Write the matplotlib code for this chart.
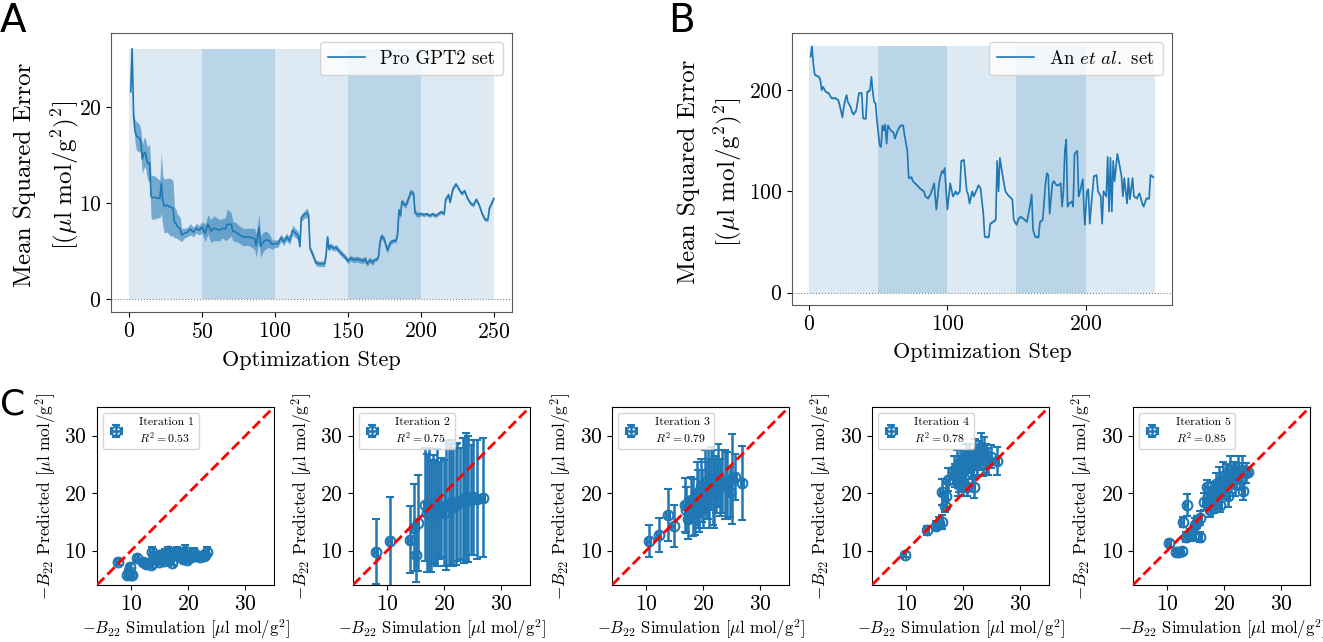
import matplotlib
matplotlib.use('Agg')
import matplotlib.pyplot as plt
import numpy as np

plt.rcParams['font.family'] = 'serif'
plt.rcParams['font.serif'] = ['cmr10']
plt.rcParams['mathtext.fontset'] = 'cm'
plt.rcParams['axes.formatter.use_mathtext'] = True
plt.rcParams['axes.unicode_minus'] = False

# ---- panel A : Pro GPT2 set ----
steps_a = [1, 2, 3, 4, 5, 6, 7, 8, 9, 10, 11, 12, 13, 14, 15, 16, 18, 20, 21, 22, 23, 24, 26, 28, 30,
           31, 32, 33, 35, 36, 38, 40, 42, 44, 46, 48, 50, 52, 54, 56, 58, 60, 62, 64, 66, 67, 70,
           71, 73, 75, 78, 80, 82, 84, 86, 87, 88, 89, 90, 92, 94, 96, 98, 100, 102, 104, 106, 108,
           110, 112, 114, 116, 117, 118, 120, 122, 123, 124, 126, 128, 130, 134, 135, 136, 137, 138,
           140, 142, 144, 146, 148, 150, 152, 154, 156, 158, 160, 162, 163, 165, 167, 168, 170, 171,
           172, 173, 175, 177, 179, 181, 183, 184, 185, 186, 187, 189, 190, 192, 193, 195, 196, 198,
           200, 202, 204, 206, 208, 210, 212, 214, 216, 217, 219, 220, 222, 224, 226, 228, 230, 232,
           234, 236, 238, 240, 242, 244, 246, 247, 248, 250]
mse_a = [21.6, 26.1, 19.0, 17.5, 17.0, 16.9, 16.8, 16.4, 14.6, 15.2, 15.3, 14.5, 14.1, 14.2, 10.7,
         10.6, 10.6, 10.5, 10.5, 12.1, 10.3, 9.7, 9.8, 9.6, 9.5, 8.0, 7.9, 7.6, 7.3, 6.7, 6.9, 7.0,
         7.3, 7.0, 7.4, 7.2, 7.5, 6.9, 7.8, 7.1, 7.4, 7.3, 7.2, 7.4, 7.3, 7.8, 7.8, 7.1, 7.0, 6.8,
         6.5, 6.5, 6.5, 6.4, 6.3, 5.6, 6.5, 7.5, 5.5, 6.0, 6.2, 6.1, 5.7, 5.8, 5.8, 6.4, 6.0, 6.5,
         6.1, 7.2, 6.9, 6.6, 5.5, 8.5, 8.8, 9.0, 8.7, 5.3, 4.6, 3.8, 3.7, 3.7, 4.6, 6.5, 5.2, 5.6,
         5.3, 5.4, 5.0, 4.7, 4.4, 4.0, 4.3, 4.1, 4.2, 4.1, 4.0, 4.2, 3.7, 4.1, 3.8, 4.1, 4.2, 4.5,
         6.0, 6.6, 6.2, 5.1, 5.9, 6.1, 6.1, 6.8, 9.3, 8.7, 10.2, 9.8, 9.9, 10.7, 11.2, 11.0, 9.0, 8.8,
         8.9, 8.8, 8.9, 8.7, 8.9, 8.7, 8.9, 9.1, 8.9, 10.4, 10.9, 10.1, 11.5, 12.0, 11.5, 11.0, 11.3,
         10.5, 10.0, 9.8, 10.4, 9.8, 8.9, 8.3, 8.3, 9.5, 9.8, 10.5]
std_a = [0.3, 0.3, 0.5, 1.2, 1.5, 1.5, 1.4, 1.3, 1.5, 1.6, 1.5, 1.6, 1.8, 2.0, 2.2, 2.3, 2.2, 2.0,
         2.0, 3.2, 2.6, 2.8, 2.8, 3.0, 2.9, 1.6, 1.5, 1.3, 1.2, 0.7, 0.5, 0.5, 0.6, 0.5, 0.5, 0.5,
         0.6, 0.9, 1.0, 1.2, 1.3, 1.2, 1.1, 1.0, 1.2, 1.6, 1.2, 1.0, 1.0, 0.9, 0.9, 0.9, 0.9, 1.0,
         1.1, 1.2, 1.3, 1.4, 1.1, 1.0, 0.9, 0.7, 0.5, 0.4, 0.4, 0.4, 0.4, 0.4, 0.4, 0.5, 0.5, 0.4,
         0.3, 0.4, 0.4, 0.5, 0.4, 0.3, 0.3, 0.3, 0.3, 0.3, 0.3, 0.3, 0.3, 0.3, 0.3, 0.3, 0.3, 0.3,
         0.3, 0.3, 0.3, 0.3, 0.3, 0.3, 0.3, 0.3, 0.3, 0.3, 0.3, 0.2, 0.2, 0.2, 0.3, 0.3, 0.3, 0.3,
         0.3, 0.2, 0.2, 0.2, 0.3, 0.3, 0.3, 0.3, 0.3, 0.3, 0.3, 0.3, 0.3, 0.3, 0.2, 0.2, 0.2, 0.2,
         0.2, 0.2, 0.2, 0.2, 0.2, 0.2, 0.2, 0.2, 0.2, 0.2, 0.2, 0.2, 0.2, 0.2, 0.2, 0.2, 0.2, 0.2,
         0.2, 0.2, 0.2, 0.2, 0.2, 0.2]

# ---- panel B : An et al. set ----
steps_b = [1, 2, 3, 4, 7, 8, 9, 10, 12, 14, 16, 19, 21, 22, 24, 25, 26, 27, 28, 30, 31, 32, 34, 36,
           38, 39, 41, 42, 44, 45, 46, 47, 48, 49, 51, 52, 53, 54, 55, 56, 57, 59, 61, 62, 64, 66,
           68, 69, 71, 72, 74, 75, 78, 80, 83, 84, 86, 88, 90, 90.5, 91, 92, 94, 95, 96, 97, 98,
           100, 102, 104, 106, 107, 109, 110, 112, 114, 115, 116, 118, 119, 120, 122.5, 124, 126,
           127, 130, 131, 133, 135, 136, 137, 138, 140, 142, 144, 147, 148, 150, 151.5, 153, 155,
           157.5, 159, 160, 161, 162, 163.5, 166, 167, 169, 171, 172, 173, 174, 176, 177, 179, 180,
           182, 183, 184, 185, 186, 187, 188, 190, 191, 192, 194, 195, 196, 198, 199, 199.5, 201,
           202, 203, 205, 206, 208, 209, 211, 212, 213, 215, 216, 217, 218, 219, 220, 221, 223, 224,
           226, 227, 228, 230, 231, 232, 234, 235, 237, 239, 241, 242, 244, 246, 247, 249]
mse_b = [233, 243, 225, 215, 213, 210, 200, 203, 198, 197, 192, 192, 190, 185, 173, 183, 190, 195,
         188, 183, 178, 176, 180, 197, 197, 172, 172, 198, 200, 213, 198, 188, 187, 170, 145, 144,
         165, 160, 166, 147, 165, 160, 158, 152, 160, 165, 165, 155, 140, 113, 114, 110, 106, 103,
         100, 95, 93, 98, 106, 108, 97, 82, 108, 115, 120, 118, 123, 82, 108, 95, 100, 97, 100, 130,
         131, 100, 97, 88, 100, 95, 98, 106, 103, 78, 55, 55, 68, 70, 72, 130, 100, 133, 115, 100,
         96, 92, 72, 67, 73, 75, 73, 70, 80, 88, 97, 62, 55, 55, 70, 72, 108, 118, 116, 78, 108, 110,
         106, 106, 108, 85, 100, 140, 151, 85, 88, 90, 85, 137, 140, 95, 100, 112, 78, 67, 100, 102,
         68, 100, 115, 116, 100, 95, 68, 100, 95, 134, 80, 133, 80, 130, 110, 137, 130, 115, 95, 113,
         88, 113, 92, 113, 95, 93, 98, 88, 85, 93, 93, 116, 114]

# ---- panel C : parity plots, one per iteration ----
sim_1 = [7.6, 9.2, 9.6, 9.7, 10.0, 10.2, 11.0, 12.0, 12.5, 13.0, 13.5, 13.6, 14.0, 14.5, 14.8, 15.0,
         15.5, 15.8, 16.0, 16.5, 16.8, 17.0, 17.2, 17.5, 18.0, 18.5, 18.7, 19.0, 19.5, 19.8, 20.0,
         20.5, 21.0, 21.3, 22.0, 22.8, 23.0, 23.3]
pred_1 = [8.0, 5.7, 6.5, 7.1, 5.8, 5.7, 8.7, 8.0, 7.7, 7.8, 7.5, 9.8, 8.5, 9.0, 8.0, 9.2, 8.8, 8.2,
          9.5, 9.9, 8.8, 9.6, 7.9, 9.3, 9.8, 9.0, 9.4, 8.6, 10.0, 8.4, 9.3, 8.9, 9.6, 9.0, 8.9, 9.0,
          9.3, 9.8]
err_1 = [0.6, 0.5, 0.5, 0.6, 0.5, 0.5, 0.6, 0.5, 0.5, 0.5, 0.6, 0.8, 0.6, 0.7, 0.5, 0.7, 0.6, 0.5,
         0.7, 0.8, 0.6, 0.7, 0.5, 0.7, 0.8, 0.7, 0.7, 0.6, 0.9, 0.6, 0.7, 0.6, 0.8, 0.6, 0.6, 0.7,
         0.7, 0.8]

sim_2 = [8.0, 10.5, 14.0, 14.6, 15.0, 15.3, 16.7, 17.0, 17.3, 17.6, 18.0, 18.3, 18.7, 19.0, 19.5,
         20.0, 20.3, 20.8, 21.2, 21.5, 22.0, 22.3, 22.8, 23.2, 23.5, 23.8, 24.2, 24.6, 25.0, 25.8, 26.8]
pred_2 = [9.8, 11.6, 11.9, 14.0, 9.2, 14.8, 18.0, 16.5, 17.0, 16.0, 17.2, 16.8, 17.5, 17.0, 17.5,
          16.5, 17.8, 18.0, 18.3, 17.6, 18.0, 18.5, 18.2, 19.0, 18.7, 19.3, 19.0, 18.8, 19.3, 18.9, 19.2]
err_2 = [5.7, 7.7, 5.8, 7.6, 4.6, 8.4, 9.8, 10.3, 10.8, 9.8, 9.5, 9.0, 10.2, 8.5, 8.6, 9.2, 11.2,
         10.6, 11.0, 10.3, 10.5, 10.3, 9.6, 10.6, 10.9, 11.2, 11.0, 9.5, 10.0, 10.3, 10.4]

sim_3 = [10.5, 12.2, 13.8, 14.8, 16.7, 17.0, 17.3, 17.8, 18.2, 18.5, 18.8, 19.0, 19.3, 19.5, 19.8,
         20.0, 20.2, 20.5, 20.8, 21.0, 21.3, 21.6, 21.9, 22.2, 22.5, 22.9, 23.3, 23.7, 24.2, 24.7,
         25.0, 25.5, 26.8]
pred_3 = [11.6, 12.7, 16.2, 14.3, 18.0, 17.0, 15.5, 18.8, 17.5, 16.5, 20.0, 19.0, 16.7, 21.0, 19.5,
          18.0, 22.0, 20.5, 21.5, 20.0, 22.5, 21.0, 20.0, 21.5, 23.0, 21.0, 22.0, 21.5, 21.3, 20.2,
          22.5, 22.8, 21.8]
err_3 = [2.8, 3.0, 4.6, 3.6, 4.7, 4.0, 3.5, 4.0, 5.0, 3.8, 5.5, 5.0, 3.5, 5.0, 4.5, 4.0, 5.5, 5.0,
         6.0, 6.0, 5.5, 6.5, 6.0, 5.0, 5.5, 5.0, 5.5, 6.0, 5.8, 4.3, 7.8, 4.0, 6.4]

sim_4 = [9.7, 13.6, 15.2, 15.8, 16.2, 16.2, 16.8, 17.0, 17.3, 18.3, 18.6, 18.8, 19.0, 19.2, 19.5,
         19.8, 20.0, 20.3, 20.5, 20.7, 21.0, 21.3, 21.6, 21.8, 22.0, 22.4, 22.8, 23.1, 23.4, 23.7,
         24.0, 24.4, 24.8, 25.9]
pred_4 = [9.3, 13.5, 14.3, 14.8, 15.0, 20.2, 17.7, 19.5, 22.3, 24.0, 23.0, 24.5, 21.5, 22.5, 25.5,
          23.5, 22.0, 24.8, 26.5, 21.0, 26.0, 25.0, 23.5, 21.0, 27.0, 25.5, 26.5, 28.0, 25.0, 27.0,
          26.0, 25.5, 26.3, 25.6]
err_4 = [0.5, 0.8, 0.8, 1.0, 1.2, 2.2, 1.0, 2.0, 2.0, 2.5, 2.0, 3.0, 2.0, 2.3, 2.0, 3.0, 2.5, 2.5,
         2.0, 1.5, 2.5, 2.5, 2.0, 1.8, 2.5, 2.3, 2.5, 2.5, 2.0, 2.8, 2.5, 2.3, 2.0, 2.5]

sim_5 = [10.3, 11.5, 12.0, 12.5, 12.7, 13.3, 13.4, 14.0, 14.7, 14.8, 15.2, 15.7, 15.8, 16.5, 16.9,
         17.2, 17.5, 17.8, 18.0, 18.2, 18.5, 18.8, 19.1, 19.2, 19.4, 19.7, 20.0, 20.3, 20.6, 20.9,
         21.2, 21.5, 21.9, 22.3, 22.7, 23.0, 23.3, 23.8, 24.1]
pred_5 = [11.3, 9.7, 9.8, 9.9, 15.0, 12.3, 18.0, 12.7, 12.7, 14.5, 15.0, 15.7, 12.3, 18.5, 21.0,
          19.5, 17.0, 20.0, 20.5, 18.0, 21.5, 19.5, 22.0, 18.0, 20.5, 23.0, 21.0, 22.5, 19.5, 24.0,
          22.0, 23.5, 21.5, 24.5, 22.5, 24.0, 20.3, 23.5, 23.7]
err_5 = [0.6, 0.4, 0.4, 0.5, 0.9, 0.9, 1.9, 1.0, 1.0, 1.2, 1.0, 1.2, 0.9, 1.5, 1.2, 1.5, 1.2, 2.0,
         1.5, 1.5, 2.0, 2.0, 2.5, 1.3, 2.0, 2.5, 2.0, 2.5, 2.0, 2.5, 2.0, 2.0, 2.0, 2.0, 2.0, 2.5,
         1.5, 1.8, 0.8]

r2_values = [0.53, 0.75, 0.79, 0.78, 0.85]

blue = '#1f77b4'
fig = plt.figure(figsize=(13.23, 6.42), dpi=100)


def mse_panel(ax, steps, mse, std, label):
    top = max(mse)
    # alternating shading, one block per iteration of 50 steps
    for i in range(5):
        a = 0.15 if i % 2 == 0 else 0.3
        ax.fill_between([50 * i, 50 * (i + 1)], 0, top, color=blue, alpha=a, lw=0)
    steps = np.array(steps)
    mse = np.array(mse)
    std = np.array(std)
    ax.fill_between(steps, mse - std, mse + std, color=blue, alpha=0.55, lw=0)
    ax.plot(steps, mse, color=blue, lw=1.2, label=label)
    ax.axhline(0, color='gray', ls=':', lw=0.8)
    ax.set_xlabel('Optimization Step', fontsize=16, labelpad=6)
    ax.set_ylabel('Mean Squared Error\n' + r'$[(\mu\mathrm{l\ mol/g}^2)^2]$', fontsize=18,
                  linespacing=1.55)
    ax.tick_params(labelsize=15.5)
    for s in ax.spines.values():
        s.set_color('0.35')
    ax.legend(loc='upper right', fontsize=13.5)


axA = fig.add_axes([0.0839, 0.514, 0.3031, 0.4346])
mse_panel(axA, steps_a, mse_a, std_a, 'Pro GPT2 set')
axA.set_xticks([0, 50, 100, 150, 200, 250])
axA.set_yticks([0, 10, 20])
axA.yaxis.set_label_coords(-0.075, 0.49)

axB = fig.add_axes([0.5986, 0.5249, 0.2872, 0.4237])
mse_panel(axB, steps_b, mse_b, [1.0] * len(mse_b), r'An $\mathit{et\ al.}$ set')
axB.set_xticks([0, 100, 200])
axB.set_yticks([0, 100, 200])
axB.yaxis.set_label_coords(-0.125, 0.49)

# parity plots
sims = [sim_1, sim_2, sim_3, sim_4, sim_5]
preds = [pred_1, pred_2, pred_3, pred_4, pred_5]
errs = [err_1, err_2, err_3, err_4, err_5]
lefts = [0.0733, 0.2668, 0.4626, 0.6591, 0.8564]

for i in range(5):
    ax = fig.add_axes([lefts[i], 0.0888, 0.1338, 0.2773])
    ax.plot([4, 35], [4, 35], 'r--', lw=2, zorder=3)
    ax.errorbar(sims[i], preds[i], xerr=0.3, yerr=errs[i], fmt='o', mfc='none', mec=blue,
                color=blue, ms=7, mew=1.5, elinewidth=1.8, capsize=3, capthick=1.5,
                label='Iteration %d\n$R^2 = %.2f$' % (i + 1, r2_values[i]))
    ax.set_xlim(4, 35)
    ax.set_ylim(4, 35)
    ax.set_xticks([10, 20, 30])
    ax.set_yticks([10, 20, 30])
    ax.tick_params(labelsize=15.5)
    ax.set_xlabel(r'$-B_{22}$ Simulation $[\mu\mathrm{l\ mol/g}^2]$', fontsize=12, labelpad=2)
    ax.set_ylabel(r'$-B_{22}$ Predicted $[\mu\mathrm{l\ mol/g}^2]$', fontsize=12.5)
    leg = ax.legend(loc='upper left', fontsize=8.5, handlelength=1.5, handletextpad=1.2)
    for t in leg.get_texts():
        t.set_multialignment('left')

# panel letters
fig.text(0.0, 0.997, 'A', fontsize=28, family='DejaVu Sans', va='top')
fig.text(0.505, 0.997, 'B', fontsize=28, family='DejaVu Sans', va='top')
fig.text(0.0, 0.397, 'C', fontsize=26, family='DejaVu Sans', va='top')

fig.savefig('out.png', dpi=100)
